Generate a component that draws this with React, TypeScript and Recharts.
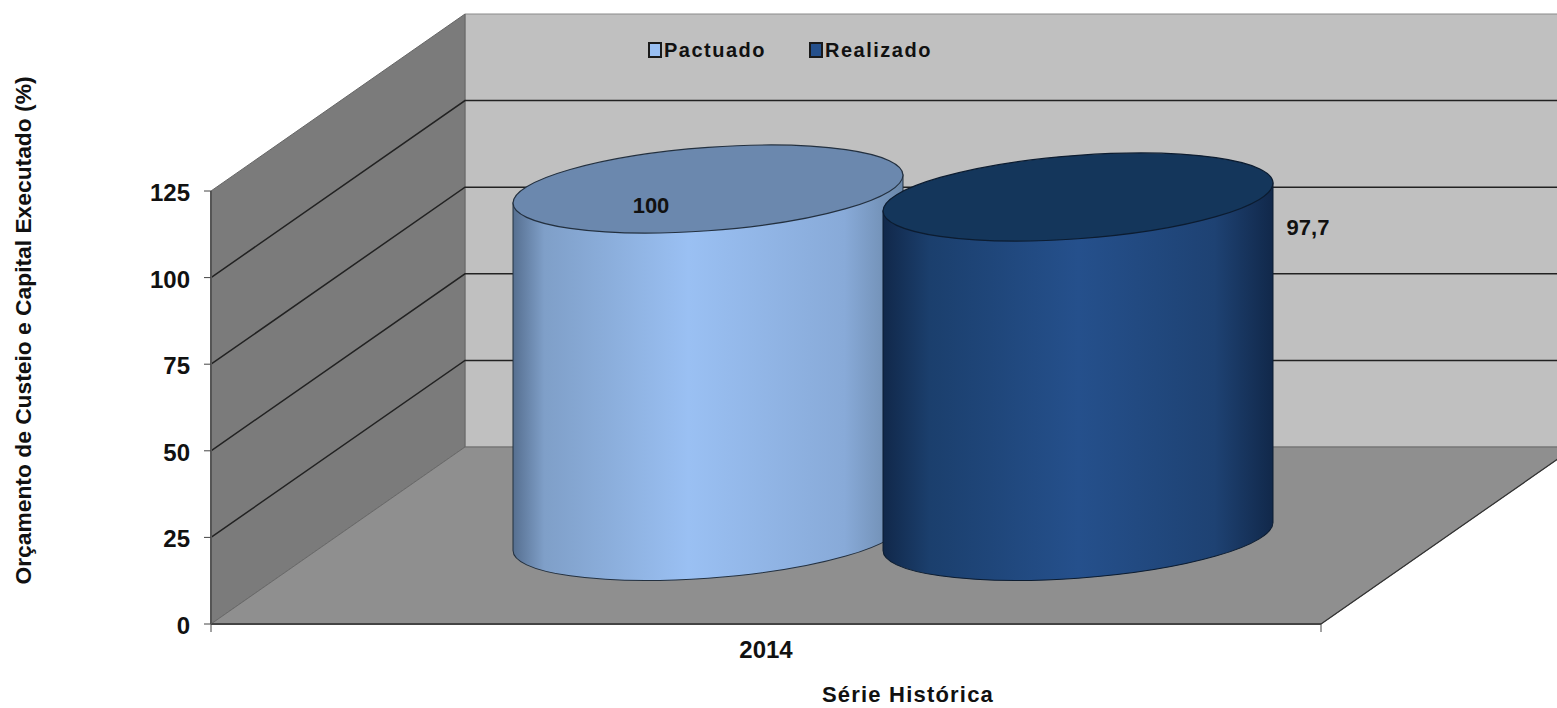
import { BarChart, Bar, XAxis, YAxis, CartesianGrid, Legend, LabelList, Label } from 'recharts';

const categories = ['2014'];
const pactuado = [100];
const realizado = [97.7];
const yTicks = [0, 25, 50, 75, 100, 125];

const table = categories.map((ano, i) => ({ ano, Pactuado: pactuado[i], Realizado: realizado[i] }));

// pseudo 3D layout of the box
const W = 1557;
const H = 708;
const LEFT = 211;
const TOP = 191;
const RIGHT = 236;
const BOTTOM = 84;
const DEPTH_X = 254;
const DEPTH_Y = -177;
const FONT = '"Liberation Sans", Arial, sans-serif';

const plotRight = W - RIGHT;
const plotBottom = H - BOTTOM;

// walls and floor sit in their own svg under the chart
function Walls() {
  const backX = LEFT + DEPTH_X;
  const backBottom = plotBottom + DEPTH_Y;
  const backTop = TOP + DEPTH_Y;
  return (
    <svg width={W} height={H} style={{ position: 'absolute', left: 0, top: 0 }}>
      <defs>
        <linearGradient id="gradPactuado" x1="0" x2="1" y1="0" y2="0">
          <stop offset="0" stopColor="#566f90" />
          <stop offset="0.08" stopColor="#7f9fc8" />
          <stop offset="0.45" stopColor="#9ac0f3" />
          <stop offset="0.85" stopColor="#88aad8" />
          <stop offset="1" stopColor="#6a87a9" />
        </linearGradient>
        <linearGradient id="gradRealizado" x1="0" x2="1" y1="0" y2="0">
          <stop offset="0" stopColor="#11284a" />
          <stop offset="0.12" stopColor="#1b3f6d" />
          <stop offset="0.5" stopColor="#25508c" />
          <stop offset="0.85" stopColor="#1e4273" />
          <stop offset="1" stopColor="#11284a" />
        </linearGradient>
      </defs>
      <polygon points={`${backX},${backTop} ${W + 5},${backTop} ${W + 5},${backBottom} ${backX},${backBottom}`} fill="#c0c0c0" stroke="#8a8a8a" />
      <polygon points={`${LEFT},${TOP} ${backX},${backTop} ${backX},${backBottom} ${LEFT},${plotBottom}`} fill="#7b7b7b" stroke="#666" />
      <polygon
        points={`${LEFT},${plotBottom} ${backX},${backBottom} ${plotRight + DEPTH_X},${backBottom} ${plotRight},${plotBottom}`}
        fill="#8f8f8f"
        stroke="#6a6a6a"
      />
      <line x1={plotRight} y1={plotBottom} x2={plotRight + DEPTH_X} y2={backBottom} stroke="#333" strokeWidth={1.2} />
      <line x1={LEFT} y1={plotBottom} x2={LEFT} y2={plotBottom + 8} stroke="#444" />
      <line x1={plotRight} y1={plotBottom} x2={plotRight} y2={plotBottom + 8} stroke="#444" />
    </svg>
  );
}

// each horizontal grid line runs along the side wall and then the back wall
function wallLine(props: any) {
  const { x1, y1, index } = props;
  if (y1 >= plotBottom - 1 || y1 <= TOP + 1) return <g key={index} />;
  return (
    <polyline
      key={index}
      points={`${x1},${y1} ${x1 + DEPTH_X},${y1 + DEPTH_Y} ${W},${y1 + DEPTH_Y}`}
      fill="none"
      stroke="#222"
      strokeWidth={1.5}
    />
  );
}

function cylinder(gradient: string, lid: string, edge: string) {
  return (props: any) => {
    const { x, y, width, height } = props;
    const a = width / 2;
    const b = 41.7;
    const h = height * 1.003;
    const cx = x + a + 127;
    const cy = y + height - 87.5 - h;
    return (
      <g transform={`translate(${cx},${cy}) skewY(-4.1)`}>
        <path
          d={`M${-a},0 L${-a},${h} A${a},${b} 0 0 0 ${a},${h} L${a},0 Z`}
          fill={`url(#${gradient})`}
          stroke={edge}
          strokeWidth={1}
        />
        <ellipse cx={0} cy={0} rx={a} ry={b} fill={lid} stroke={edge} strokeWidth={1.2} />
      </g>
    );
  };
}

function valueLabel(dx: number, dy: number) {
  return (props: any) => {
    const { x, y, value } = props;
    return (
      <text x={x + dx} y={y + dy} textAnchor="middle" dominantBaseline="middle" fontFamily={FONT} fontWeight={700} fontSize={22} fill="#111">
        {String(value).replace('.', ',')}
      </text>
    );
  };
}

const swatches: Record<string, string> = { Pactuado: '#9ac0f3', Realizado: '#25508c' };

function legendContent(props: any) {
  return (
    <div style={{ display: 'flex', fontFamily: FONT, fontWeight: 700, fontSize: 20, letterSpacing: 1.5, color: '#111', lineHeight: '24px' }}>
      {props.payload.map((p: any) => (
        <div key={p.value} style={{ display: 'flex', alignItems: 'center', marginRight: 43 }}>
          <span style={{ width: 10, height: 12, marginRight: 2, border: '2px solid #1a1a1a', background: swatches[p.value] }} />
          {p.value}
        </div>
      ))}
    </div>
  );
}

export default function App() {
  return (
    <div style={{ position: 'absolute', left: 0, top: 0, width: W, height: H, background: '#fff', overflow: 'hidden' }}>
      <Walls />
      <div style={{ position: 'absolute', left: 0, top: 0 }}>
        <BarChart
          width={W}
          height={H}
          data={table}
          margin={{ top: TOP, right: RIGHT, bottom: 0, left: 0 }}
          barSize={390}
          barGap={-20}
        >
          <CartesianGrid vertical={false} horizontal={wallLine} stroke="#222" />
          <XAxis
            dataKey="ano"
            height={BOTTOM}
            tickLine={false}
            axisLine={{ stroke: '#444', strokeWidth: 2 }}
            tick={{ fontFamily: FONT, fontWeight: 700, fontSize: 24, fill: '#111' }}
            tickMargin={11}
          >
            <Label
              value="Série Histórica"
              position="insideBottom"
              offset={6}
              dx={142}
              fontFamily={FONT}
              fontWeight={700}
              fontSize={22}
              letterSpacing={1.2}
              fill="#111"
            />
          </XAxis>
          <YAxis
            width={LEFT}
            domain={[0, 125]}
            ticks={yTicks}
            interval={0}
            tickSize={7}
            tickMargin={14}
            axisLine={{ stroke: '#555', strokeWidth: 2 }}
            tickLine={{ stroke: '#444' }}
            tick={{ fontFamily: FONT, fontWeight: 700, fontSize: 24, fill: '#111', dy: 1.5 }}
          >
            <Label
              value="Orçamento de Custeio e Capital Executado (%)"
              angle={-90}
              position="insideLeft"
              textAnchor="middle"
              offset={0}
              dx={23}
              dy={-77}
              fontFamily={FONT}
              fontWeight={700}
              fontSize={22.8}
              fill="#111"
            />
          </YAxis>
          <Legend
            verticalAlign="middle"
            wrapperStyle={{ position: 'absolute', left: 648, top: 38, bottom: 'auto', width: 'auto' }}
            content={legendContent}
          />
          <Bar dataKey="Pactuado" shape={cylinder('gradPactuado', '#6b88ae', '#23303f')} isAnimationActive={false}>
            <LabelList dataKey="Pactuado" content={valueLabel(265, -70)} />
          </Bar>
          <Bar dataKey="Realizado" shape={cylinder('gradRealizado', '#14365b', '#0c1c30')} isAnimationActive={false}>
            <LabelList dataKey="Realizado" content={valueLabel(552, -56)} />
          </Bar>
        </BarChart>
      </div>
    </div>
  );
}
